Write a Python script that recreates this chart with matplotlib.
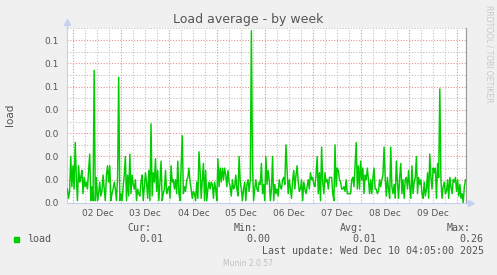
import matplotlib
matplotlib.use('Agg')
import matplotlib.pyplot as plt
from matplotlib.patches import Rectangle
import numpy as np

# load average, 1/1000 units, one sample every ~33 min
load_milli = [
    6, 2, 5, 20, 7, 16, 6, 26, 11, 1, 16, 9, 11, 14, 4, 11, 7, 9, 6, 14, 21, 1, 7, 1,
    57,
    1, 11, 1, 4, 9, 3, 5, 12, 6, 1, 12, 16, 9, 16, 1, 4, 6, 9, 6, 1, 11,
    54,
    1, 4, 1, 7, 12, 20, 1, 12, 3, 21, 4, 12, 8, 6, 10, 1, 6, 4, 3, 9, 12, 1, 7, 13, 9, 2, 14, 1,
    34,
    3, 13, 9, 19, 5, 14, 1, 9, 18, 1, 4, 6, 14, 4, 6, 7, 2, 16, 9, 10, 6, 10, 4, 18, 4, 1, 16,
    29,
    4, 7, 5, 10, 11, 15, 9, 6, 2, 5, 4, 1, 9, 2, 22, 14, 2, 10, 17, 1, 14, 1, 6, 9, 6, 9,
    8, 2, 9, 6, 1, 19, 7, 15, 9, 15, 10, 15, 12, 7, 14, 9, 7, 3, 10, 6, 7,
    12, 6, 3, 20, 9, 6, 1, 6, 9, 1, 8, 10, 5, 10,
    74,
    16, 1, 6, 10, 6, 5, 9, 8, 17, 4, 8, 1, 20, 8, 14, 10, 1, 6, 20, 1, 8, 4, 6, 3, 10, 7, 6, 10, 11, 8,
    25,
    14, 4, 10, 6, 2, 10, 14, 6, 12, 16, 9, 5, 6, 10, 1, 9, 6, 4, 7, 10, 6, 13, 10, 11, 8, 7,
    12, 20, 4, 13, 1, 24, 9, 4, 13, 9, 10, 6, 11, 11, 11, 4, 1, 25, 7, 15, 14, 10, 9, 6, 6,
    7, 5, 10, 4, 4, 4, 4, 10, 11, 7, 16,
    26,
    6, 16, 6, 18, 10, 15, 4, 12, 10, 15, 10, 4, 10, 4, 11, 15, 6, 6, 4, 5, 10, 7, 10, 12,
    24, 11, 3, 11, 6, 2, 24, 7, 4, 8, 2, 18, 9, 2, 11, 17, 4, 10, 2, 10, 11, 6, 14, 7, 2,
    16, 4, 9, 11, 20, 4, 11, 8, 10, 4, 2, 9, 3, 6, 13, 2, 21, 11, 6, 15, 13, 15, 2, 17, 11,
    49,
    10, 2, 7, 9, 4, 5, 10, 2, 11, 7, 4, 10, 9, 11, 5, 10, 3, 8, 2, 4, 0, 7, 10,
]
day_labels = ['02 Dec', '03 Dec', '04 Dec', '05 Dec', '06 Dec', '07 Dec', '08 Dec', '09 Dec']
y_labels = ['0.0', '0.0', '0.0', '0.0', '0.0', '0.1', '0.1', '0.1']
stats_head = ['Cur:', 'Min:', 'Avg:', 'Max:']
stats_vals = ['0.01', '0.00', '0.01', '0.26']

load = np.array(load_milli) / 1000.0
hours = -3.0 + 0.5575 * np.arange(len(load))   # hours since 02 Dec 00:00

W, H = 497, 275
def fx(x): return x / W
def fy(y): return 1 - y / H

fig = plt.figure(figsize=(W / 100, H / 100), dpi=100, facecolor='#f0f0f0')
ax = fig.add_axes([fx(67), fy(203), 399 / W, 175 / H])
ax.set_facecolor('white')
ax.set_xlim(-3.2, 196.3)
ax.set_ylim(0, 0.0752)

# grid: gray every 6h / 0.005, red every day / 0.01
grey = dict(color='#c4c4c4', lw=0.8, ls=(0, (1, 1.5)), zorder=1)
red = dict(color='#e29494', lw=0.8, ls=(0, (1, 1.5)), zorder=1)
for h in range(0, 197, 6):
    if h % 24:
        ax.axvline(h, **grey)
for h in range(0, 197, 24):
    ax.axvline(h, **red)
for v in np.arange(0.005, 0.076, 0.01):
    ax.axhline(v, **grey)
for v in np.arange(0.01, 0.076, 0.01):
    ax.axhline(v, **red)

ax.plot(hours, load, color='#00cc00', lw=1.05, zorder=3)

ax.set_xticks(np.arange(12, 12 + 24 * len(day_labels), 24))
ax.set_xticklabels(day_labels)
ax.set_yticks(np.arange(len(y_labels)) * 0.01)
ax.set_yticklabels(y_labels)
ax.tick_params(length=0, labelsize=6.5, labelcolor='#555555')
ax.tick_params(axis='y', pad=6)
ax.tick_params(axis='x', pad=4)

for s in ['left', 'bottom']:
    ax.spines[s].set_color('#c8d0f0')
ax.spines['top'].set_visible(False)
ax.spines['right'].set_color('#999999')
ax.plot([0, 0], [1.0, 1.03], color='#c8d0f0', lw=1, transform=ax.transAxes, clip_on=False)
ax.plot([1.0, 1.012], [0, 0], color='#c8d0f0', lw=1, transform=ax.transAxes, clip_on=False)
ax.plot(0, 1.035, marker='^', ms=5, color='#c8d0f0', transform=ax.transAxes, clip_on=False)
ax.plot(1.012, 0, marker='>', ms=5, color='#c8d0f0', transform=ax.transAxes, clip_on=False)

fig.text(fx(248), fy(19), 'Load average - by week', ha='center', va='center',
         fontsize=9, color='#555555')
fig.text(fx(10), fy(115), 'load', rotation=90, ha='center', va='center',
         fontsize=7.5, color='#555555')
fig.text(fx(489), fy(5), 'RRDTOOL / TOBI OETIKER', rotation=270, ha='center', va='top',
         fontsize=5.5, color='#c8c8c8')

mono = dict(family='DejaVu Sans Mono', fontsize=7.2, color='#555555', va='center')
fig.patches.append(Rectangle((fx(14), fy(242)), 5 / W, 5 / H, transform=fig.transFigure,
                             color='#00cc00'))
fig.text(fx(27), fy(239.5), 'load', ha='left', **mono)
for i, (hd, v) in enumerate(zip(stats_head, stats_vals)):
    fig.text(fx(151 + 106.5 * i), fy(228), hd, ha='right', **mono)
    fig.text(fx(163.5 + 106.5 * i), fy(239.5), v, ha='right', **mono)
fig.text(fx(483.5), fy(251), 'Last update: Wed Dec 10 04:05:00 2025', ha='right', **mono)
fig.text(fx(248), fy(264), 'Munin 2.0.57', ha='center', va='center', fontsize=5.5,
         color='#c0c0c0')

fig.savefig('out.png', dpi=100, facecolor=fig.get_facecolor())
